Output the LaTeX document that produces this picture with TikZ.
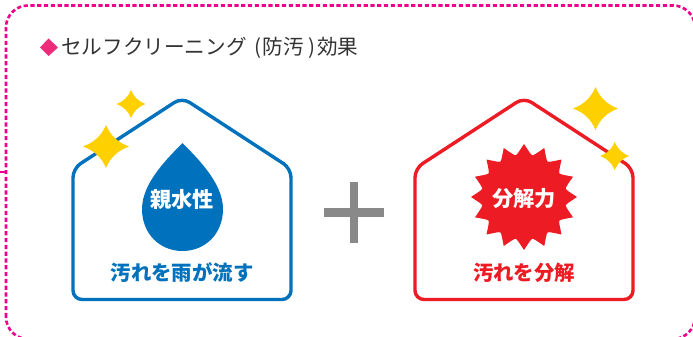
\documentclass[tikz,border=0pt]{standalone}
\usepackage{fontspec}
\newfontfamily\jpn{Noto Sans CJK JP}
\definecolor{bluec}{HTML}{0071BC}
\definecolor{redc}{HTML}{ED1C24}
\definecolor{gold}{HTML}{FFD000}
\definecolor{pinkd}{HTML}{EC008C}
\definecolor{pinkm}{HTML}{EE2A7B}
\definecolor{grayp}{HTML}{898989}
\definecolor{textc}{HTML}{333333}
\newcommand{\sparkle}[4]{\fill[gold] (#1-#3,#2) .. controls (#1-#3*0.5,#2-#4*0.2) and (#1-#3*0.2,#2-#4*0.5) .. (#1,#2-#4) .. controls (#1+#3*0.2,#2-#4*0.5) and (#1+#3*0.5,#2-#4*0.2) .. (#1+#3,#2) .. controls (#1+#3*0.5,#2+#4*0.2) and (#1+#3*0.2,#2+#4*0.5) .. (#1,#2+#4) .. controls (#1-#3*0.2,#2+#4*0.5) and (#1-#3*0.5,#2+#4*0.2) .. cycle;}
\tikzset{
 house/.style={line width=3.4pt,rounded corners=9pt,line join=round},
 lbl/.style={font=\jpn\bfseries\fontsize{20.4}{22}\selectfont,inner sep=0pt},
 inner/.style={font=\jpn\bfseries\fontsize{21.2}{23}\selectfont,text=white,inner sep=0pt},
}
\begin{document}
\begin{tikzpicture}[x=1pt,y=-1pt]
\useasboundingbox (0,0) rectangle (693,337);
\fill[white] (0,0) rectangle (693,337);
% dashed frame
\draw[pinkd,line width=2.6pt,dash pattern=on 4.2pt off 2.6pt,rounded corners=22pt] (6,339) -- (6,5.5) -- (695,5.5) -- (695,339) -- cycle;
\draw[pinkd,line width=2pt] (0,171.5) -- (6,171.5);
% title
\fill[pinkm] (40,47.5) -- (48.5,38.5) -- (58,47.5) -- (48.5,56) -- cycle;
\node (title) [anchor=west,inner sep=0pt,text=textc,font=\jpn\fontsize{20.6}{22}\selectfont] at (61,47.5) {セルフクリーニング\kern8pt(\kern1pt防汚\kern5pt)\kern1.5pt効果};
% left house
\draw[house,bluec] (182,97.5) -- (291,168.5) -- (291,299.5) -- (73,299.5) -- (73,168.5) -- cycle;
\fill[bluec] (182.5,143) .. controls (170,156) and (142,182) .. (142,209) .. controls (142,234) and (160,251) .. (182.5,251) .. controls (205,251) and (223,234) .. (223,209) .. controls (223,182) and (195,156) .. (182.5,143) -- cycle;
\node (drop) [inner] at (182,199) {親水性};
\node (l1) [lbl,text=bluec] at (182,272.5) {汚れを雨が流す};
\sparkle{131}{104}{14.5}{14}
\sparkle{106}{146.5}{23}{21.5}
% plus
\fill[grayp] (324,208) rectangle (384,217);
\fill[grayp] (350,182) rectangle (358,243);
% right house
\draw[house,redc] (524,97.5) -- (633,168.5) -- (633,299.5) -- (415,299.5) -- (415,168.5) -- cycle;
\begin{scope}[shift={(524,197)}]
\fill[redc] (90:53) \foreach \a in {90,112.5,...,427.5} { .. controls (\a+6:46) and (\a+9:43) .. (\a+11.25:42.5) .. controls (\a+13.5:43) and (\a+16.5:46) .. (\a+22.5:53) } -- cycle;
\end{scope}
\node (burst) [inner] at (524,199) {分解力};
\node (l2) [lbl,text=redc] at (524,272.5) {汚れを分解};
\sparkle{595.5}{108.5}{22.5}{21.5}
\sparkle{614.7}{156}{14.5}{14}
\end{tikzpicture}
\end{document}
